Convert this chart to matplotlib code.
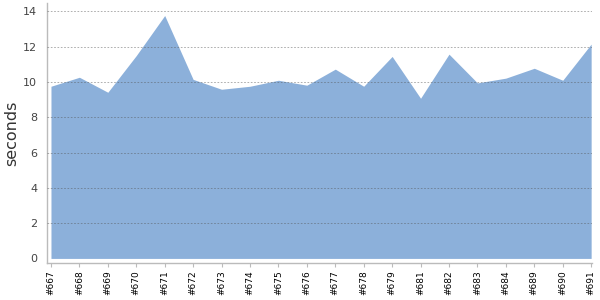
import matplotlib
matplotlib.use("Agg")
import matplotlib.pyplot as plt

builds = ["#667", "#668", "#669", "#670", "#671", "#672", "#673", "#674", "#675", "#676",
          "#677", "#678", "#679", "#681", "#682", "#683", "#684", "#689", "#690", "#691"]
seconds = [9.76, 10.27, 9.42, 11.5, 13.77, 10.15, 9.59, 9.76, 10.1, 9.82,
           10.73, 9.76, 11.45, 9.08, 11.58, 9.95, 10.22, 10.78, 10.1, 12.15]
yticks = [0, 2, 4, 6, 8, 10, 12, 14]

fig = plt.figure(figsize=(6, 3), dpi=100)
left, right, bottom, top = 47 / 600, 592 / 600, 37 / 300, 297 / 300
ax = fig.add_axes([left, bottom, right - left, top - bottom])

x = list(range(len(builds)))
ax.fill_between(x, 0, seconds, color="#8cb0da", linewidth=0, zorder=2)

ax.set_xlim(-0.14, len(builds) - 1 + 0.03)
ax.set_ylim(-0.26, 14.48)
ax.set_yticks(yticks)
ax.set_yticklabels([str(v) for v in yticks])
ax.set_xticks(x)
ax.set_xticklabels(builds, rotation=90, fontsize=6.5, color="#000000")

for v in yticks[1:]:
    ax.axhline(v, color="#555555", alpha=0.55, linewidth=0.6,
               linestyle=(0, (2, 2)), zorder=3)

for s in ["top", "right"]:
    ax.spines[s].set_visible(False)
for s in ["left", "bottom"]:
    ax.spines[s].set_color("#bbbbbb")
    ax.spines[s].set_linewidth(1.0)

ax.tick_params(axis="y", length=0, pad=7, labelsize=8, labelcolor="#444444")
ax.tick_params(axis="x", length=3, width=0.8, color="#bbbbbb", pad=2)

ax.set_ylabel("seconds", fontsize=11.5, color="#333333")
ax.yaxis.set_label_coords((19 - 47) / 545, 0.5)

fig.savefig("out.png", dpi=100)
